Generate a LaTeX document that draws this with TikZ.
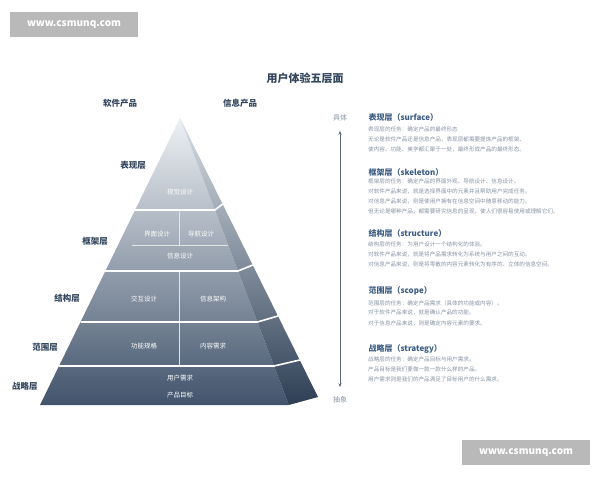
\documentclass[tikz,border=0pt]{standalone}
\usepackage{fontspec}
\setmainfont{Noto Sans CJK SC}
\usetikzlibrary{arrows.meta,positioning}
\definecolor{titleblue}{HTML}{34465E}
\definecolor{headblue}{HTML}{3C5C82}
\definecolor{bodygray}{HTML}{8793A3}
\definecolor{faceTop}{HTML}{EEF1F4}
\definecolor{faceBot}{HTML}{42546C}
\definecolor{sideTop}{HTML}{D8DEE5}
\definecolor{sideBot}{HTML}{2E3F55}

\begin{document}
\begin{tikzpicture}[x=1pt,y=-1pt,
  layerlbl/.style={font=\fontsize{8.5}{10}\selectfont\bfseries, text=titleblue},
  inner/.style={font=\fontsize{6.5}{8}\selectfont, text=white},
  head/.style={font=\fontsize{8}{10}\selectfont\bfseries, text=headblue, anchor=west},
  body/.style={font=\fontsize{5.6}{10}\selectfont, text=bodygray, anchor=north west, align=left, inner sep=0pt},
  sep/.style={white, line width=1.6pt},
  divider/.style={white!80!gray, line width=0.6pt},
  wmark/.style={fill=gray!55, text=white, font=\fontsize{10}{12}\selectfont\bfseries, minimum width=128pt, minimum height=25pt}]
  \useasboundingbox (0,0) rectangle (600,480);

  % Wasserzeichen
  \node[wmark] (wm1) at (74,24.5) {www.csmunq.com};
  \node[wmark] (wm2) at (526,452.5) {www.csmunq.com};

  % Titel
  \node[font=\fontsize{11}{13}\selectfont\bfseries, text=titleblue] (title) at (305,78) {用户体验五层面};
  \node[layerlbl] (soft) at (120,103) {软件产品};
  \node[layerlbl] (info) at (240,103) {信息产品};

  % Pyramide
  \shade[top color=faceTop, bottom color=faceBot] (180,118) -- (40,405) -- (288.8,405) -- cycle;
  \shade[top color=sideTop, bottom color=sideBot] (180,118) -- (288.8,405) -- (318,397) -- cycle;
  \draw[sep] (135,210) -- (214.9,210) -- (222.6,204);
  \draw[sep] (105,271) -- (238,271) -- (252.8,265);
  \draw[sep] (80.5,322) -- (257.4,322) -- (278,316);
  \draw[sep] (59,366) -- (274,366) -- (299.8,360);
  \draw[divider] (179,211) -- (179,245);
  \draw[divider] (132,245) -- (228,245);
  \draw[divider] (179,272) -- (179,321);
  \draw[divider] (179,323) -- (179,365);

  % Ebenen
  \node[layerlbl] (surface) at (133,165) {表现层};
  \node[layerlbl] (skeleton) at (95,241) {框架层};
  \node[layerlbl] (structure) at (67,298) {结构层};
  \node[layerlbl] (scope) at (45,347) {范围层};
  \node[layerlbl] (strategy) at (25,386) {战略层};

  \node[inner] (visual) at (180,192) {视觉设计};
  \node[inner] (ui) at (157,234) {界面设计};
  \node[inner] (nav) at (201,234) {导航设计};
  \node[inner] (infodes) at (180,256) {信息设计};
  \node[inner] (ixd) at (144,299) {交互设计};
  \node[inner] (ia) at (213,299) {信息架构};
  \node[inner] (spec) at (144,346) {功能规格};
  \node[inner] (content) at (213,346) {内容需求};
  \node[inner] (userneed) at (180,378) {用户需求};
  \node[inner] (goal) at (180,395) {产品目标};

  % Achse
  \node[font=\fontsize{7}{8}\selectfont, text=bodygray] (concrete) at (340,118) {具体};
  \node[font=\fontsize{7}{8}\selectfont, text=bodygray] (abstract) at (340,400) {抽象};
  \draw[{Stealth[length=4pt]}-{Stealth[length=4pt]}, titleblue!80, line width=0.7pt]
    ([yshift=-6pt]concrete.south) -- ([yshift=6pt]abstract.north);

  % Beschreibungen
  \node[head] (hsurface) at (365,117) {表现层（surface）};
  \node[body] at (368,127) {表现层的任务：确定产品的最终形态\\无论是软件产品还是信息产品，表现层都需要提炼产品的框架、\\使内容、功能、美学都汇聚于一处，最终形成产品的最终形态。};
  \node[head] (hskeleton) at (365,172) {框架层（skeleton）};
  \node[body] at (368,179) {框架层的任务：确定产品的界面外观、导航设计、信息设计。\\对软件产品来说，就是选择界面中的元素并且帮助用户完成任务。\\对信息产品来说，则是使用户拥有在信息空间中随意移动的能力。\\但无论是哪种产品，都需要研究信息的呈现，使人们很容易使用或理解它们。};
  \node[head] (hstructure) at (365,233) {结构层（structure）};
  \node[body] at (368,242) {结构层的任务：为用户设计一个结构化的体验。\\对软件产品来说，就是将产品需求转化为系统与用户之间的互动。\\对信息产品来说，则是将零散的内容元素转化为有序的、立体的信息空间。};
  \node[head] (hscope) at (365,291) {范围层（scope）};
  \node[body] at (368,300) {范围层的任务：确定产品需求（具体的功能或内容）。\\对于软件产品来说，就是确认产品的功能。\\对于信息产品来说，则是确定内容元素的要求。};
  \node[head] (hstrategy) at (365,349) {战略层（strategy）};
  \node[body] at (368,357) {战略层的任务：确定产品目标与用户需求。\\产品目标是我们要做一款一款什么样的产品。\\用户需求则是我们的产品满足了目标用户的什么需求。};
\end{tikzpicture}
\end{document}
